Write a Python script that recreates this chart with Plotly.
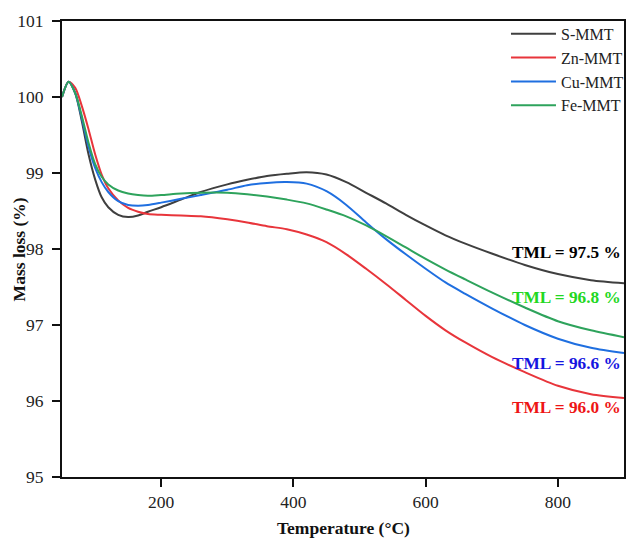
import plotly.graph_objects as go

temperature = [50, 60, 70, 80, 90, 100, 110, 120, 135, 150, 165, 180, 200, 230, 260, 300,
               330, 360, 390, 420, 450, 480, 510, 540, 570, 600, 630, 660, 700, 750, 800, 850, 900]

s_mmt = [100.0, 100.2, 100.05, 99.68, 99.25, 98.92, 98.68, 98.55, 98.45, 98.42, 98.44, 98.49,
         98.55, 98.65, 98.75, 98.85, 98.91, 98.96, 98.99, 99.01, 98.98, 98.88, 98.74, 98.6,
         98.45, 98.31, 98.18, 98.07, 97.94, 97.79, 97.67, 97.59, 97.55]
zn_mmt = [100.0, 100.2, 100.12, 99.88, 99.58, 99.25, 98.98, 98.8, 98.64, 98.54, 98.49, 98.46,
          98.45, 98.44, 98.43, 98.39, 98.35, 98.3, 98.26, 98.19, 98.09, 97.93, 97.74, 97.54,
          97.33, 97.12, 96.93, 96.77, 96.58, 96.38, 96.2, 96.09, 96.04]
cu_mmt = [100.0, 100.2, 100.05, 99.72, 99.35, 99.07, 98.88, 98.75, 98.63, 98.58, 98.57, 98.58,
          98.61, 98.66, 98.71, 98.78, 98.84, 98.87, 98.88, 98.86, 98.76, 98.58, 98.35, 98.13,
          97.93, 97.74, 97.56, 97.41, 97.22, 97.0, 96.82, 96.7, 96.63]
fe_mmt = [100.0, 100.2, 100.05, 99.75, 99.4, 99.12, 98.95, 98.85, 98.77, 98.73, 98.71, 98.7,
          98.71, 98.73, 98.74, 98.74, 98.72, 98.69, 98.65, 98.6, 98.52, 98.43, 98.31, 98.17,
          98.02, 97.87, 97.73, 97.6, 97.43, 97.23, 97.05, 96.93, 96.84]

series_names = ["S-MMT", "Zn-MMT", "Cu-MMT", "Fe-MMT"]
series_values = [s_mmt, zn_mmt, cu_mmt, fe_mmt]
line_colors = ["#3f3f3f", "#e8353b", "#1f6fe0", "#2ea35c"]

tml_labels = ["TML = 97.5 %", "TML = 96.8 %", "TML = 96.6 %", "TML = 96.0 %"]
tml_y = [97.95, 97.36, 96.5, 95.91]
tml_colors = ["#000000", "#22d822", "#1515e0", "#ee1515"]

SERIF = "Liberation Serif, Times New Roman, serif"

fig = go.Figure()
for name, vals, col in zip(series_names, series_values, line_colors):
    fig.add_trace(go.Scatter(x=temperature, y=vals, name=name, mode="lines",
                             line=dict(color=col, width=2, shape="spline", smoothing=0.8)))

for lab, yv, col in zip(tml_labels, tml_y, tml_colors):
    fig.add_annotation(x=899, y=yv, text="<b>" + lab + "</b>", showarrow=False,
                       xanchor="right", yanchor="middle",
                       font=dict(family=SERIF, size=17.3, color=col))

# axis titles as text annotations
fig.add_annotation(xref="paper", yref="paper", x=(19 - 62) / 567, y=0.5,
                   text="<b>Mass loss (%)</b>", textangle=-90, showarrow=False,
                   xanchor="center", yanchor="middle",
                   font=dict(family=SERIF, size=17.5, color="#111111"))
fig.add_annotation(xref="paper", yref="paper", x=(346 - 62) / 567, y=-(528 - 477) / 456,
                   text="<b>Temperature (°C)</b>", showarrow=False,
                   xanchor="center", yanchor="middle",
                   font=dict(family=SERIF, size=17.5, color="#111111"))

axis_common = dict(showline=True, linecolor="#111111", linewidth=2, mirror=True,
                   ticks="outside", ticklen=8, tickwidth=2, tickcolor="#111111",
                   showgrid=False, zeroline=False, automargin=False,
                   tickfont=dict(family=SERIF, size=17.5, color="#222222"))

fig.update_layout(
    width=630, height=538,
    margin=dict(l=62, r=1, t=21, b=61),
    paper_bgcolor="white", plot_bgcolor="white",
    xaxis=dict(range=[50, 900], tickvals=[200, 400, 600, 800], **axis_common),
    yaxis=dict(range=[95, 101], tickvals=[95, 96, 97, 98, 99, 100, 101],
               ticklabelstandoff=5, **axis_common),
    legend=dict(x=0.79, y=1.009, xanchor="left", yanchor="top",
                bgcolor="rgba(0,0,0,0)", borderwidth=0, tracegroupgap=0,
                itemwidth=45,
                font=dict(family=SERIF, size=16, color="#222222")),
    showlegend=True,
)

fig.write_html("out.html", config={"displayModeBar": False},
               post_script="document.body.style.margin='0';")
